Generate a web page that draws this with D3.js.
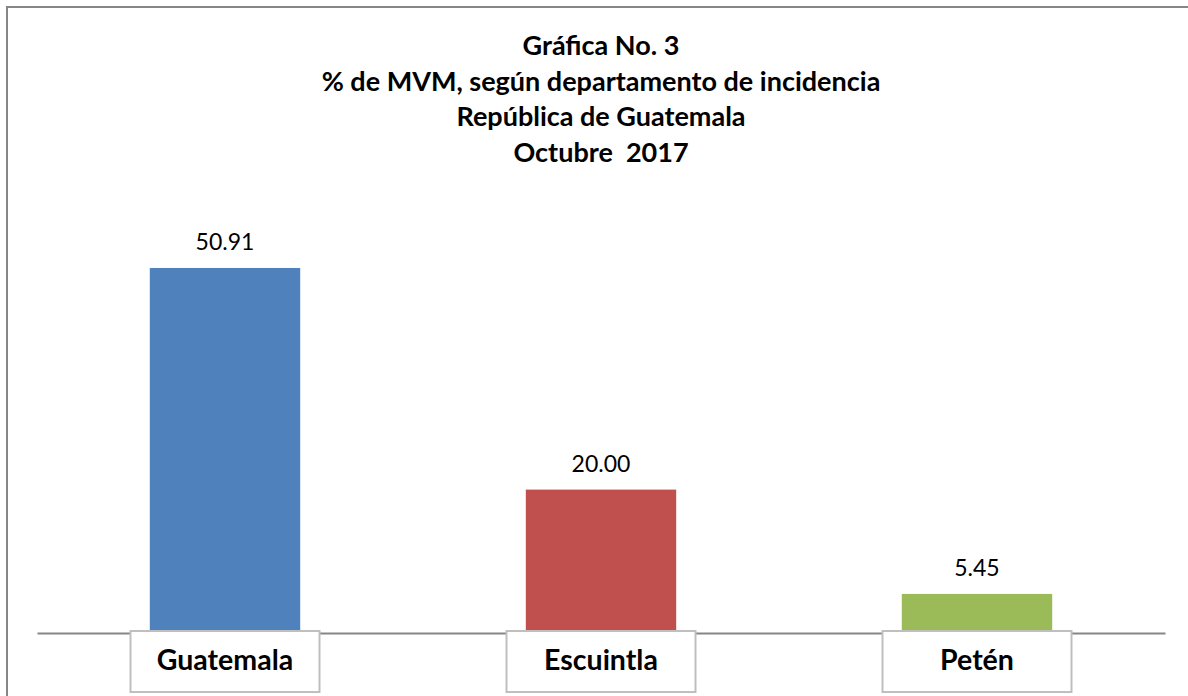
<!DOCTYPE html>
<html>
<head>
<meta charset="utf-8">
<script src="https://cdn.jsdelivr.net/npm/d3@7"></script>
<style>
    body { margin: 0; background: #fff; }
    svg { display: block; font-family: Lato, "Open Sans", sans-serif; }
</style>
</head>
<body>
<svg id="chart" width="1188" height="696"></svg>
<script>
// data
let categories = ["Guatemala", "Escuintla", "Petén"];
let values = [50.91, 20.00, 5.45];
let colors = ["#4F81BD", "#C0504D", "#9BBB59"];
let titleLines = [
    "Gráfica No. 3",
    "% de MVM, según departamento de incidencia",
    "República de Guatemala",
    "Octubre  2017"
];

let svg = d3.select("#chart");
let width = +svg.attr("width");
let height = +svg.attr("height");

// outer frame
svg.append("rect")
    .attr("x", 7).attr("y", 7)
    .attr("width", width + 10).attr("height", height + 10)
    .attr("fill", "#fff")
    .attr("stroke", "#868686")
    .attr("stroke-width", 2);

// title
svg.append("g")
    .selectAll("text")
    .data(titleLines)
    .enter().append("text")
    .attr("x", 601)
    .attr("y", function (d, i) { return 55 + i * 35.7; })
    .attr("text-anchor", "middle")
    .attr("font-size", 27)
    .attr("font-weight", "bold")
    .attr("fill", "#000")
    .style("white-space", "pre")
    .text(function (d) { return d; });

let baseY = 633;
let x = d3.scaleBand()
    .domain(categories)
    .range([37, 1165])
    .paddingInner(0.6)
    .paddingOuter(0.3);

let y = d3.scaleLinear()
    .domain([0, 60])
    .range([baseY, baseY - 60 * 7.17]);

// bars
svg.append("g")
    .selectAll("rect")
    .data(values)
    .enter().append("rect")
    .attr("x", function (d, i) { return x(categories[i]); })
    .attr("y", function (d) { return y(d); })
    .attr("width", x.bandwidth())
    .attr("height", function (d) { return y(0) - y(d); })
    .attr("fill", function (d, i) { return colors[i]; });

// value labels
svg.append("g")
    .selectAll("text")
    .data(values)
    .enter().append("text")
    .attr("x", function (d, i) { return x(categories[i]) + x.bandwidth() / 2; })
    .attr("y", function (d) { return y(d) - 18; })
    .attr("text-anchor", "middle")
    .attr("font-size", 23)
    .attr("fill", "#000")
    .text(function (d) { return d.toFixed(2); });

// axis line
let axis = svg.append("g")
    .attr("transform", "translate(0," + baseY + ")")
    .call(d3.axisBottom(x).tickSize(0).tickFormat(""));
axis.select(".domain")
    .attr("stroke", "#868686")
    .attr("stroke-width", 2);

// category label boxes
let boxW = 189, boxH = 61;
let cat = svg.append("g")
    .selectAll("g")
    .data(categories)
    .enter().append("g")
    .attr("transform", function (d) {
        return "translate(" + (x(d) + x.bandwidth() / 2) + "," + (baseY - 2) + ")";
    });

cat.append("rect")
    .attr("x", -boxW / 2)
    .attr("y", 0)
    .attr("width", boxW)
    .attr("height", boxH)
    .attr("fill", "#fff")
    .attr("stroke", "#BFBFBF")
    .attr("stroke-width", 2);

cat.append("text")
    .attr("x", 0)
    .attr("y", 39)
    .attr("text-anchor", "middle")
    .attr("font-size", 28.5)
    .attr("font-weight", "bold")
    .attr("fill", "#000")
    .text(function (d) { return d; });
</script>
</body>
</html>
